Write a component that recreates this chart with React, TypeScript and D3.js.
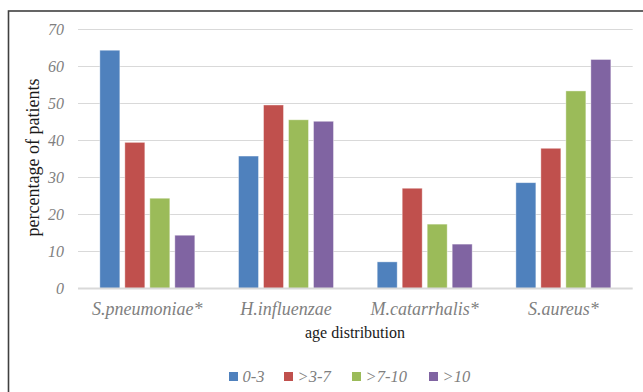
import React from "react";
import * as d3 from "d3";

const categories = ["S.pneumoniae*", "H.influenzae", "M.catarrhalis*", "S.aureus*"];
const seriesNames = ["0-3", ">3-7", ">7-10", ">10"];
const seriesColors = ["#4F81BD", "#C0504D", "#9BBB59", "#8064A2"];
const v03 = [64.4, 35.8, 7.2, 28.6];
const v37 = [39.5, 49.6, 27.1, 37.9];
const v710 = [24.4, 45.6, 17.4, 53.4];
const v10 = [14.4, 45.2, 12.0, 61.9];
const yTicks = [0, 10, 20, 30, 40, 50, 60, 70];

const W = 643;
const H = 392;
const serif = "Liberation Serif";

export default function App() {
  const series = [v03, v37, v710, v10];
  const x0 = d3.scaleBand<string>().domain(categories).range([78, 632.7]).paddingInner(0).paddingOuter(0);
  const x1 = d3
    .scaleBand<string>()
    .domain(seriesNames)
    .range([0, x0.bandwidth()])
    .paddingInner(0.2)
    .paddingOuter(0.874);
  const y = d3.scaleLinear().domain([0, 70]).range([288.5, 29.5]);

  const legendX = [229, 284, 352, 429];
  const ital = { fontFamily: serif, fontStyle: "italic" as const };

  return (
    <svg
      width={W}
      height={H}
      style={{ position: "absolute", left: 0, top: 0, background: "#fff" }}
    >
      <rect x={8.5} y={11} width={W} height={H} fill="#fff" stroke="#404040" strokeWidth={1.6} />
      {yTicks.map((t) =>
        t === 0 ? null : (
          <line key={t} x1={78} x2={632.7} y1={y(t)} y2={y(t)} stroke="#d9d9d9" strokeWidth={1} />
        )
      )}
      {yTicks.map((t) => (
        <text
          key={"l" + t}
          x={64}
          y={y(t)}
          dy="0.35em"
          textAnchor="end"
          style={{ ...ital, fontSize: 16 }}
          fill="#7f7f7f"
        >
          {t}
        </text>
      ))}
      {categories.map((c, ci) => (
        <g key={c} transform={`translate(${x0(c)},0)`}>
          {series.map((s, si) => (
            <rect
              key={si}
              x={x1(seriesNames[si])}
              y={y(s[ci])}
              width={x1.bandwidth()}
              height={y(0) - y(s[ci])}
              fill={seriesColors[si]}
              stroke="#ffffff"
              strokeOpacity={0.5}
              strokeWidth={0.8}
            />
          ))}
          <text
            x={x0.bandwidth() / 2}
            y={315}
            textAnchor="middle"
            style={{ ...ital, fontSize: 18 }}
            fill="#7f7f7f"
          >
            {c}
          </text>
        </g>
      ))}
      <line x1={78} x2={632.7} y1={y(0)} y2={y(0)} stroke="#d9d9d9" strokeWidth={2} />
      <text x={355} y={338} textAnchor="middle" style={{ fontFamily: serif, fontSize: 16 }} fill="#1a1a1a">
        age distribution
      </text>
      <text
        transform="translate(39,157.5) rotate(-90)"
        textAnchor="middle"
        style={{ fontFamily: serif, fontSize: 18 }}
        fill="#1a1a1a"
      >
        percentage of patients
      </text>
      {seriesNames.map((n, i) => (
        <g key={n}>
          <rect x={legendX[i]} y={372} width={9} height={9} fill={seriesColors[i]} />
          <text
            x={legendX[i] + 13.5}
            y={381.7}
            style={{ ...ital, fontSize: 16.5 }}
            fill="#7f7f7f"
          >
            {n}
          </text>
        </g>
      ))}
    </svg>
  );
}
